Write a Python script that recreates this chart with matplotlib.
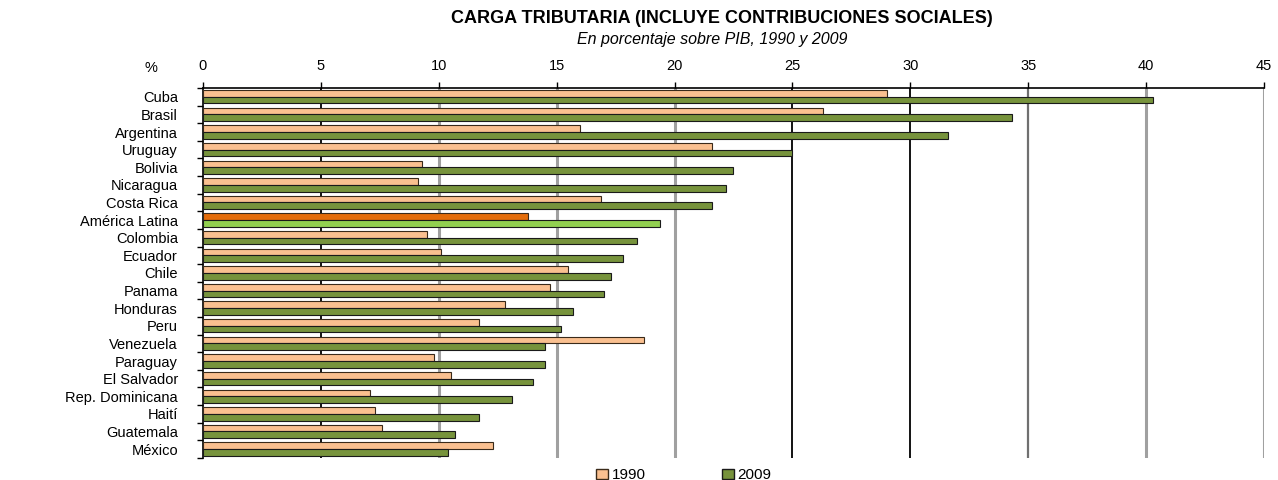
import numpy as np
import matplotlib
matplotlib.use("Agg")
import matplotlib.pyplot as plt
from matplotlib.patches import Patch

plt.rcParams["font.family"] = ["Liberation Sans", "DejaVu Sans"]

# Data (percentage of GDP)
countries = ["Cuba", "Brasil", "Argentina", "Uruguay", "Bolivia", "Nicaragua",
             "Costa Rica", "América Latina", "Colombia", "Ecuador", "Chile",
             "Panama", "Honduras", "Peru", "Venezuela", "Paraguay",
             "El Salvador", "Rep. Dominicana", "Haití", "Guatemala", "México"]
y1990 = [29.0, 26.3, 16.0, 21.6, 9.3, 9.1, 16.9, 13.8, 9.5, 10.1, 15.5,
         14.7, 12.8, 11.7, 18.7, 9.8, 10.5, 7.1, 7.3, 7.6, 12.3]
y2009 = [40.3, 34.3, 31.6, 25.0, 22.5, 22.2, 21.6, 19.4, 18.4, 17.8, 17.3,
         17.0, 15.7, 15.2, 14.5, 14.5, 14.0, 13.1, 11.7, 10.7, 10.4]
xticks = [0, 5, 10, 15, 20, 25, 30, 35, 40, 45]

c1990 = "#FAC090"
c2009 = "#77933C"
c1990_al = "#E46C0A"
c2009_al = "#92D050"

cols1990 = [c1990_al if c == "América Latina" else c1990 for c in countries]
cols2009 = [c2009_al if c == "América Latina" else c2009 for c in countries]

fig = plt.figure(figsize=(12.78, 4.8), dpi=100)
ax = fig.add_axes([0.1588, 0.046, 0.8302, 0.7707])

pos = np.arange(len(countries))
h = 0.38
ax.barh(pos - h / 2, y1990, height=h, color=cols1990, edgecolor="#3a2a1a",
        linewidth=0.8, zorder=3)
ax.barh(pos + h / 2, y2009, height=h, color=cols2009, edgecolor="#1a1a1a",
        linewidth=0.8, zorder=3)

ax.set_xlim(0, 45)
ax.set_ylim(len(countries) - 0.5, -0.5)

# gridlines: some dark, some grey
for v in xticks[1:]:
    if v in (5, 25, 30):
        ax.axvline(v, color="black", linewidth=1.3, zorder=1)
    elif v == 35:
        ax.axvline(v, color="#707070", linewidth=1.6, zorder=1)
    else:
        ax.axvline(v, color="#a0a0a0", linewidth=2.2, zorder=1)

ax.xaxis.tick_top()
ax.set_xticks(xticks)
ax.set_xticklabels([str(v) for v in xticks], fontsize=10.5)
ax.tick_params(axis="x", length=4, pad=7, width=1)

ax.set_yticks(pos)
ax.set_yticklabels(countries, fontsize=10.5)
ax.tick_params(axis="y", length=0, pad=18)
ax.set_yticks(np.arange(-0.5, len(countries)), minor=True)
ax.tick_params(axis="y", which="minor", length=4, width=1)

ax.spines["right"].set_visible(False)
ax.spines["bottom"].set_visible(False)
ax.spines["top"].set_linewidth(1.2)
ax.spines["left"].set_linewidth(1.2)

fig.text(0.118, 0.858, "%", fontsize=10.5, ha="center", va="center")

fig.text(0.565, 0.962, "CARGA TRIBUTARIA (INCLUYE CONTRIBUCIONES SOCIALES)",
         fontsize=13, fontweight="bold", ha="center", va="center")
fig.text(0.557, 0.918, "En porcentaje sobre PIB, 1990 y 2009",
         fontsize=11.5, style="italic", ha="center", va="center")

handles = [Patch(facecolor=c1990, edgecolor="#3a2a1a", label="1990"),
           Patch(facecolor=c2009, edgecolor="#1a1a1a", label="2009")]
fig.legend(handles=handles, loc="center", bbox_to_anchor=(0.535, 0.01),
           ncol=2, frameon=False, fontsize=11, handlelength=0.8,
           handleheight=0.6, handletextpad=0.2, columnspacing=5)

plt.savefig("out.png", dpi=100)
plt.close()
